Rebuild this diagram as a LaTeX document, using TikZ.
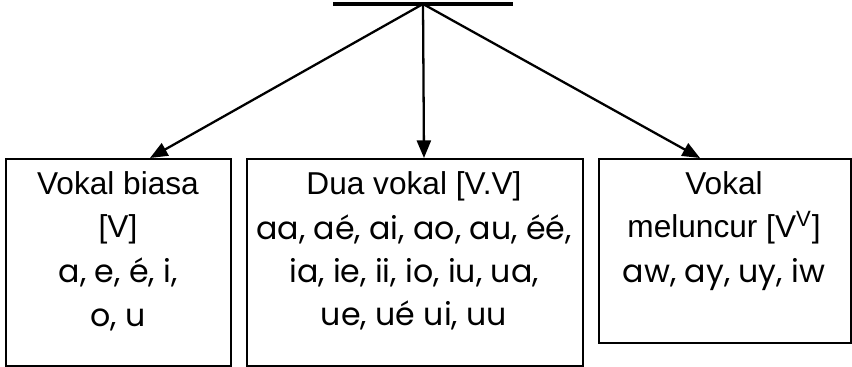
\documentclass[tikz,border=0pt]{standalone}
\usepackage{fontspec}
\setmainfont{Liberation Sans}
\newfontfamily\vowelfont{Poppins}
\usetikzlibrary{arrows.meta}
\usetikzlibrary{calc}

\begin{document}
\begin{tikzpicture}[
                x=0.02cm, y=-0.02cm,
                box/.style={draw, line width=1.3pt, inner sep=0pt, anchor=north west},
                boxtext/.style={anchor=north, align=center, inner sep=0pt, font=\fontsize{18}{24.5}\selectfont},
                branch/.style={line width=1.3pt, -{Triangle[length=10pt, width=8pt]}} ]

            \useasboundingbox (0,0) rectangle (852,367);

            \coordinate (barL) at (333,4);
            \coordinate (barR) at (513,4);
            \coordinate (root) at (423,4);
            \draw[line width=2.8pt] (barL) -- (barR);

            \node[box, minimum width=4.5cm, minimum height=4.14cm] (boxL) at (5,158) {};
            \node[box, minimum width=6.72cm, minimum height=4.14cm] (boxM) at (246,158) {};
            \node[box, minimum width=5.04cm, minimum height=3.68cm] (boxR) at (598,158) {};

            \node[boxtext] (textL) at (118,171)
                {Vokal biasa\\{}[V]\\[1pt]\vowelfont a, e, é, i,\\[1pt]\vowelfont o, u};
            \node[boxtext] (textM) at (414,171)
                {Dua vokal [V.V]\\[1pt]\vowelfont aa, aé, ai, ao, au, éé,\\\vowelfont ia, ie, ii, io, iu, ua,\\\vowelfont ue, ué ui, uu};
            \node[boxtext] (textR) at (724,171)
                {Vokal\\meluncur [V\textsuperscript{V}]\\[1pt]\vowelfont aw, ay, uy, iw};

            \draw[branch] (root) -- ($(boxL.north west)+(145,0)$);
            \draw[branch] (root) -- ($(boxM.north west)+(178,0)$);
            \draw[branch] (root) -- ($(boxR.north west)+(102,0)$);

        \end{tikzpicture}
\end{document}
